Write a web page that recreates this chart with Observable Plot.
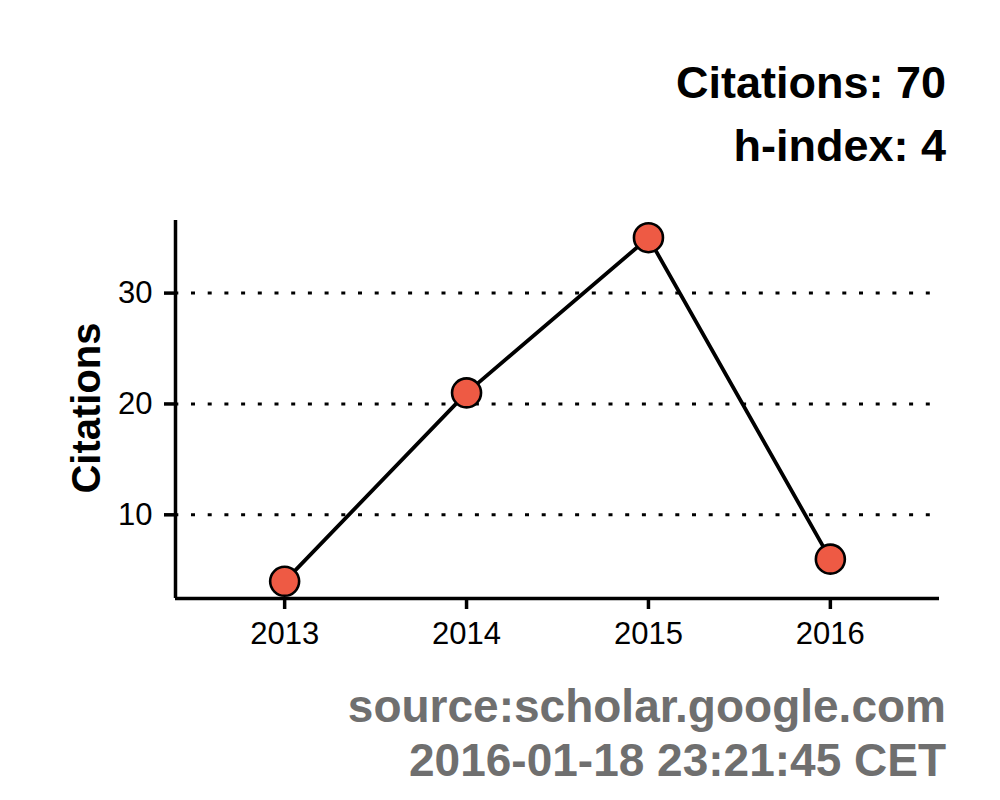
<!DOCTYPE html>
<html>
<head>
<meta charset="utf-8">
<script src="https://cdn.jsdelivr.net/npm/d3@7"></script>
<script src="https://cdn.jsdelivr.net/npm/@observablehq/plot@0.6"></script>
<style>
  html, body { margin: 0; padding: 0; background: #fff; }
  #wrap { position: relative; width: 1000px; height: 800px; font-family: "Liberation Sans", Arial, sans-serif; }
  .t { position: absolute; right: 54px; font-weight: bold; font-size: 45px; line-height: 45px; white-space: nowrap; }
  .s { font-size: 46px; line-height: 46px; color: #6f6f6f; }
  #ylab { position: absolute; left: 86px; top: 408px; font-weight: bold; font-size: 40px; line-height: 40px; white-space: nowrap;
          transform: translate(-50%, -50%) rotate(-90deg); }
  #chart { position: absolute; left: 0; top: 0; }
</style>
</head>
<body>
<div id="wrap">
  <div id="chart"></div>
  <div class="t" style="top:60px;color:#000">Citations: 70</div>
  <div class="t" style="top:123px;color:#000">h-index: 4</div>
  <div id="ylab">Citations</div>
  <div class="t s" style="top:683px">source:scholar.google.com</div>
  <div class="t s" style="top:737px">2016-01-18 23:21:45 CET</div>
</div>
<script>
const years = [2013, 2014, 2015, 2016];
const citations = [4, 21, 35, 6];
const yTicks = [10, 20, 30];

const data = years.map((y, i) => ({year: y, citations: citations[i]}));

// ggplot-like expansion
const xPad = 0.6;
const xDomain = [d3.min(years) - xPad, d3.max(years) + xPad];
const yr = d3.max(citations) - d3.min(citations);
const yDomain = [d3.min(citations) - 0.05 * yr, d3.max(citations) + 0.05 * yr];

const chart = Plot.plot({
  width: 1000,
  height: 800,
  marginLeft: 175,
  marginRight: 61,
  marginTop: 220,
  marginBottom: 202,
  style: {fontFamily: '"Liberation Sans", Arial, sans-serif', color: "#000", background: "transparent"},
  x: {domain: xDomain},
  y: {domain: yDomain},
  marks: [
    Plot.ruleY(yTicks, {stroke: "#000", strokeWidth: 3, strokeDasharray: "4,12.7", strokeDashoffset: 0.7}),
    Plot.axisX({ticks: years, tickFormat: d => String(d), tickSize: 11, tickPadding: 12, fontSize: 31, strokeWidth: 3.5, label: null}),
    Plot.axisY({ticks: yTicks, tickSize: 11, tickPadding: 12, fontSize: 31, strokeWidth: 3.5, label: null}),
    Plot.ruleX([xDomain[0]], {stroke: "#000", strokeWidth: 3.5}),
    Plot.ruleY([yDomain[0]], {stroke: "#000", strokeWidth: 3.5}),
    Plot.line(data, {x: "year", y: "citations", stroke: "#000", strokeWidth: 3.8}),
    Plot.dot(data, {x: "year", y: "citations", r: 14.5, fill: "#EE5A44", stroke: "#000", strokeWidth: 2.6})
  ]
});
document.getElementById("chart").appendChild(chart);
</script>
</body>
</html>
